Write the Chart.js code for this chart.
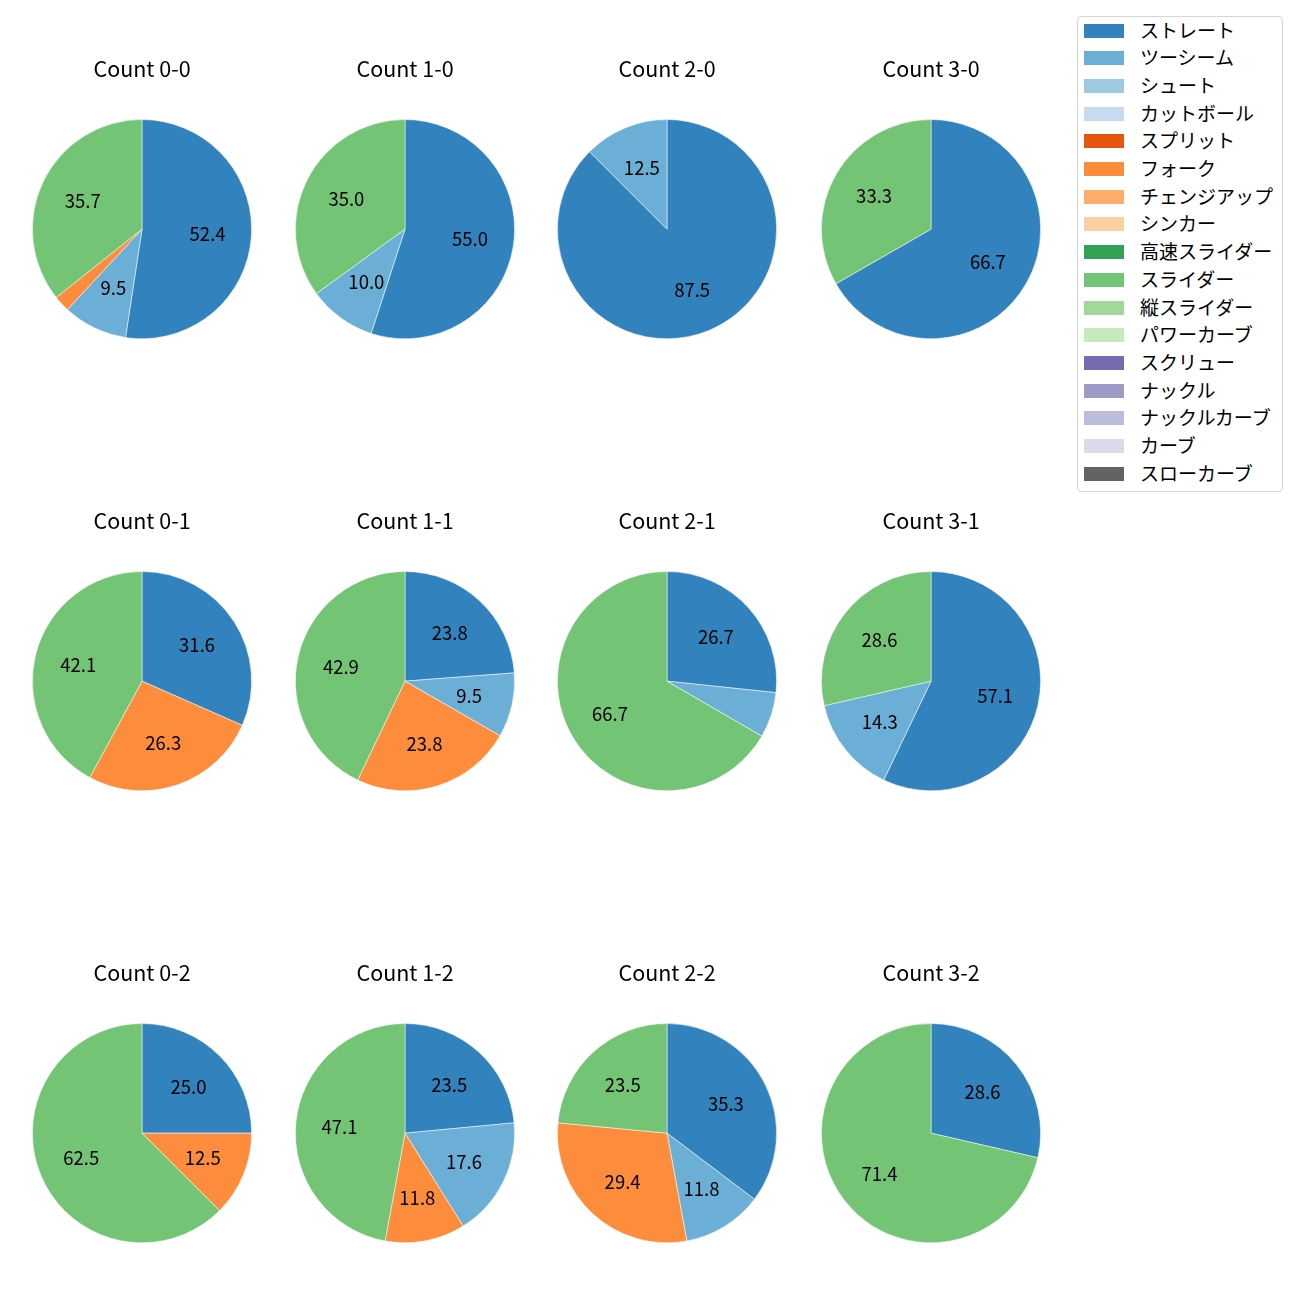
<!DOCTYPE html>
<html><head><meta charset="utf-8">
<script src="https://cdn.jsdelivr.net/npm/chart.js@4/dist/chart.umd.min.js"></script>
<style>
body{margin:0;background:#fff;}
#wrap{position:relative;width:1300px;height:1300px;background:#fff;font-family:"Noto Sans CJK JP","Noto Sans",sans-serif;}
canvas.pie{position:absolute;}
#legend{position:absolute;left:1077px;top:16px;width:204px;height:474px;border:1px solid #d6d6d6;border-radius:4px;background:#fff;}
.lrow{position:absolute;left:6px;height:20px;}
.lbox{position:absolute;left:0;top:3px;width:40px;height:14px;}
.ltxt{position:absolute;left:56px;top:-4px;font-size:19px;white-space:nowrap;color:#000;line-height:26px;}
</style></head>
<body><div id="wrap"><div id="legend"></div></div>
<script>
const pitchTypes = ["ストレート","ツーシーム","シュート","カットボール","スプリット","フォーク","チェンジアップ","シンカー","高速スライダー","スライダー","縦スライダー","パワーカーブ","スクリュー","ナックル","ナックルカーブ","カーブ","スローカーブ"];
const pitchColors = ["#3182bd","#6baed6","#9ecae1","#c6dbef","#e6550d","#fd8d3c","#fdae6b","#fdd0a2","#31a354","#74c476","#a1d99b","#c7e9c0","#756bb1","#9e9ac8","#bcbddc","#dadaeb","#636363"];
const countTitles = ["Count 0-0","Count 1-0","Count 2-0","Count 3-0","Count 0-1","Count 1-1","Count 2-1","Count 3-1","Count 0-2","Count 1-2","Count 2-2","Count 3-2"];
// values (%) in pitchTypes order
const c00 = [52.4, 9.5,0,0,0, 2.4,0,0,0,35.7,0,0,0,0,0,0,0];
const c10 = [55.0,10.0,0,0,0, 0,  0,0,0,35.0,0,0,0,0,0,0,0];
const c20 = [87.5,12.5,0,0,0, 0,  0,0,0, 0,  0,0,0,0,0,0,0];
const c30 = [66.7, 0,  0,0,0, 0,  0,0,0,33.3,0,0,0,0,0,0,0];
const c01 = [31.6, 0,  0,0,0,26.3,0,0,0,42.1,0,0,0,0,0,0,0];
const c11 = [23.8, 9.5,0,0,0,23.8,0,0,0,42.9,0,0,0,0,0,0,0];
const c21 = [26.7, 6.7,0,0,0, 0,  0,0,0,66.7,0,0,0,0,0,0,0];
const c31 = [57.1,14.3,0,0,0, 0,  0,0,0,28.6,0,0,0,0,0,0,0];
const c02 = [25.0, 0,  0,0,0,12.5,0,0,0,62.5,0,0,0,0,0,0,0];
const c12 = [23.5,17.6,0,0,0,11.8,0,0,0,47.1,0,0,0,0,0,0,0];
const c22 = [35.3,11.8,0,0,0,29.4,0,0,0,23.5,0,0,0,0,0,0,0];
const c32 = [28.6, 0,  0,0,0, 0,  0,0,0,71.4,0,0,0,0,0,0,0];
const countData = [c00,c10,c20,c30,c01,c11,c21,c31,c02,c12,c22,c32];
const labelMin = 8;

const FONT = '"Noto Sans CJK JP", "Noto Sans", sans-serif';
const pctLabels = {
  id:'pctLabels',
  afterDatasetsDraw(chart){
    const ctx = chart.ctx, meta = chart.getDatasetMeta(0), data = chart.data.datasets[0].data;
    ctx.save();
    ctx.font = '18.5px ' + FONT; ctx.fillStyle = '#000'; ctx.textAlign = 'center'; ctx.textBaseline = 'middle';
    meta.data.forEach((arc,i)=>{
      const v = data[i]; if (!v || v < labelMin) return;
      const p = arc.getProps(['x','y','startAngle','endAngle','outerRadius'], true);
      const a = (p.startAngle + p.endAngle)/2, r = p.outerRadius*0.6;
      ctx.fillText(v.toFixed(1), p.x + Math.cos(a)*r, p.y + Math.sin(a)*r);
    });
    ctx.restore();
  }
};

const wrap = document.getElementById('wrap');
const colX = [141.5, 404.5, 667, 930.5];
const rowTitleY = [69, 521, 973];
const CW = 260, CH = 291;
countData.forEach((vals, k)=>{
  const col = k % 4, row = Math.floor(k/4);
  const cv = document.createElement('canvas');
  cv.className = 'pie';
  cv.width = CW; cv.height = CH;
  cv.style.width = CW+'px'; cv.style.height = CH+'px';
  cv.style.left = (colX[col] - CW/2) + 'px';
  cv.style.top = (rowTitleY[row] - 21) + 'px';
  wrap.appendChild(cv);
  new Chart(cv, {
    type:'pie',
    data:{labels:pitchTypes, datasets:[{data:vals, backgroundColor:pitchColors, borderWidth:0.5, borderColor:'#ffffff'}]},
    options:{
      responsive:false, animation:false,
      layout:{padding:0},
      plugins:{
        legend:{display:false}, tooltip:{enabled:false},
        title:{display:true, text:countTitles[k], color:'#000', font:{family:FONT, size:21.5, weight:'normal', lineHeight:1.2}, padding:{top:8, bottom:37.5}}
      }
    },
    plugins:[pctLabels]
  });
});

const leg = document.getElementById('legend');
pitchTypes.forEach((name,i)=>{
  const r = document.createElement('div'); r.className='lrow';
  r.style.top = (3.5 + i*27.7) + 'px';
  const b = document.createElement('div'); b.className='lbox'; b.style.background = pitchColors[i];
  const t = document.createElement('div'); t.className='ltxt'; t.textContent = name;
  r.appendChild(b); r.appendChild(t); leg.appendChild(r);
});
</script></body></html>
